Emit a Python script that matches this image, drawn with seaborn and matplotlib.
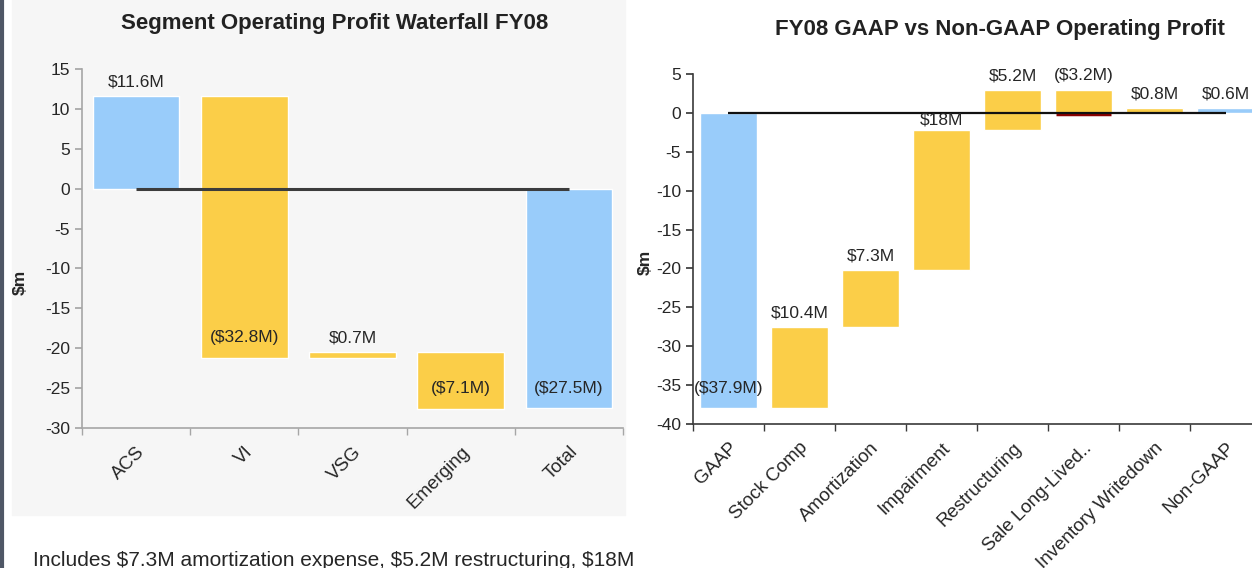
import numpy as np
import pandas as pd
import seaborn as sns
import matplotlib.pyplot as plt
from matplotlib.patches import Rectangle
from matplotlib.lines import Line2D

# left chart: segment waterfall
seg_names = ["ACS", "VI", "VSG", "Emerging", "Total"]
seg_first = 11.6
seg_steps = [-32.8, 0.7, -7.1]
seg_total = -27.5
seg_labels = ["$11.6M", "($32.8M)", "$0.7M", "($7.1M)", "($27.5M)"]

# right chart: GAAP -> non-GAAP bridge
adj_names = ["GAAP", "Stock Comp", "Amortization", "Impairment", "Restructuring",
             "Sale Long-Lived..", "Inventory Writedown", "Non-GAAP"]
gaap_value = -37.9
adj_steps = [10.4, 7.3, 18.0, 5.2, -3.2, 0.8]
nongaap_value = 0.6
adj_labels = ["($37.9M)", "$10.4M", "$7.3M", "$18M", "$5.2M", "($3.2M)", "$0.8M", "$0.6M"]

footnote = "Includes $7.3M amortization expense, $5.2M restructuring, $18M"

BLUE = "#99CCFA"
GOLD = "#FBCE48"

sns.set_theme(style="white")
plt.rcParams["font.family"] = ["Liberation Sans", "DejaVu Sans"]
plt.rcParams["axes.unicode_minus"] = False


def waterfall(start, steps, end):
    # first and last bars sit on zero, the steps float on the running total
    heights = [start] + list(steps) + [end]
    bottoms = [0.0] + list(start + np.concatenate([[0.0], np.cumsum(steps)[:-1]])) + [0.0]
    return np.array(bottoms), np.array(heights)


def draw(ax, names, bottoms, heights, colors, labels, label_at, axis_color, line_color, line_w):
    df = pd.DataFrame({"name": names, "h": heights})
    sns.barplot(data=df, x="name", y="h", hue="name", palette=colors,
                width=0.8, legend=False, ax=ax, saturation=1)
    for p, b in zip(ax.patches, bottoms):
        p.set_y(b)
    lo = np.minimum(bottoms, bottoms + heights)
    hi = np.maximum(bottoms, bottoms + heights)
    for i, (txt, where) in enumerate(zip(labels, label_at)):
        if where == "above":
            ax.text(i, hi[i] + 0.8, txt, ha="center", va="bottom", fontsize=12.5)
        elif where == "inbottom":
            ax.text(i, lo[i] + 2.5, txt, ha="center", va="center", fontsize=12.5)
        else:  # straddling the top edge
            ax.text(i, hi[i] + 1.3, txt, ha="center", va="center", fontsize=12.5, zorder=6)
    ax.hlines(0, 0, len(names) - 1, color=line_color, lw=line_w, zorder=5)
    ax.set_xlim(-0.5, len(names) - 0.5)
    ax.set_xlabel("")
    ax.set_ylabel("")
    ax.set_xticks(np.arange(len(names)))
    ax.set_xticklabels(names, rotation=45, ha="right", rotation_mode="anchor", fontsize=13.5)
    ax.set_xticks(np.arange(len(names) + 1) - 0.5, minor=True)
    ax.tick_params(axis="x", which="major", length=0, pad=11)
    ax.tick_params(axis="x", which="minor", length=5, direction="out", color=axis_color, bottom=True)
    ax.tick_params(axis="y", length=5, direction="out", color=axis_color, left=True, labelsize=12.5)
    for side in ["top", "right"]:
        ax.spines[side].set_visible(False)
    for side in ["left", "bottom"]:
        ax.spines[side].set_color(axis_color)
        ax.spines[side].set_linewidth(1.2)
    ax.set_facecolor("none")


fig = plt.figure(figsize=(12.52, 5.68), dpi=100)
fig.patches.append(Rectangle((12 / 1252, 1 - 515 / 568), 613 / 1252, 515 / 568,
                             transform=fig.transFigure, color="#f6f6f6", zorder=-10))
fig.lines.append(Line2D([0.0015, 0.0015], [0, 1], transform=fig.transFigure,
                        color="#4f5766", lw=3))

# left
ax1 = fig.add_axes([82 / 1252, 1 - 428 / 568, 541 / 1252, 359 / 568])
b1, h1 = waterfall(seg_first, seg_steps, seg_total)
colors1 = [BLUE] + [GOLD] * len(seg_steps) + [BLUE]
draw(ax1, seg_names, b1, h1, colors1, seg_labels,
     ["above", "inbottom", "above", "inbottom", "inbottom"], "#a6a6a6", "#3c3c3c", 2.2)
ax1.set_ylim(-30, 15)
ax1.set_yticks(np.arange(-30, 16, 5))

# right
ax2 = fig.add_axes([693 / 1252, 1 - 424 / 568, 568 / 1252, 350 / 568])
b2, h2 = waterfall(gaap_value, adj_steps, nongaap_value)
colors2 = [BLUE] + [GOLD] * len(adj_steps) + [BLUE]
draw(ax2, adj_names, b2, h2, colors2, adj_labels,
     ["inbottom", "above", "above", "straddle", "above", "above", "above", "above"],
     "#3a3a3a", "#111111", 1.6)
ax2.set_ylim(-40, 5)
ax2.set_yticks(np.arange(-40, 6, 5))
# dark red edge at the base of the sale bar
k = adj_names.index("Sale Long-Lived..")
ax2.hlines(b2[k] + h2[k], k - 0.39, k + 0.39, color="#8b0000", lw=2.5, zorder=4)

fig.text(335 / 1252, 1 - 23 / 568, "Segment Operating Profit Waterfall FY08",
         ha="center", va="center", fontsize=16, fontweight="bold", color="#222222")
fig.text(1000 / 1252, 1 - 30 / 568, "FY08 GAAP vs Non-GAAP Operating Profit",
         ha="center", va="center", fontsize=16, fontweight="bold", color="#222222")
fig.text(20 / 1252, 1 - 282 / 568, "$m", rotation=90, ha="center", va="center",
         fontsize=12.5, fontweight="bold")
fig.text(645 / 1252, 1 - 262 / 568, "$m", rotation=90, ha="center", va="center",
         fontsize=12.5, fontweight="bold")
fig.text(33 / 1252, 1 - 566 / 568, footnote, ha="left", va="baseline", fontsize=15)

fig.savefig("out.png", dpi=100)
